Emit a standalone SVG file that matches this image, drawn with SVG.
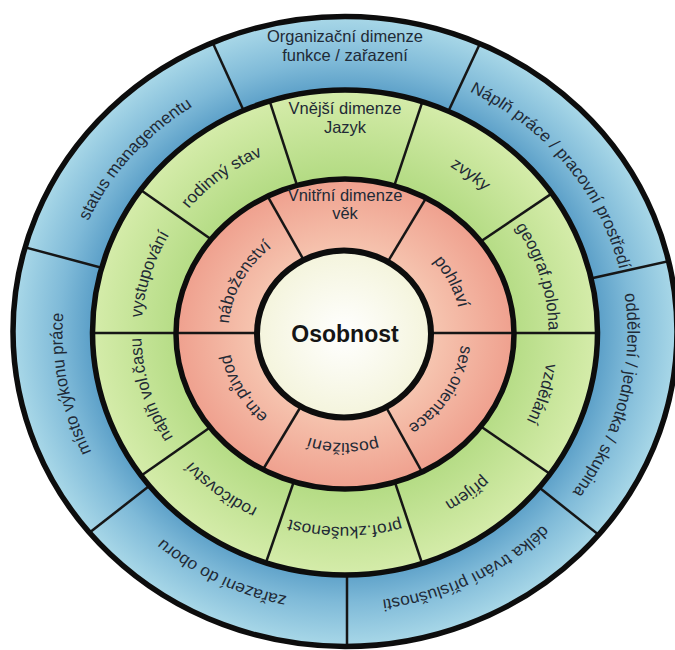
<svg xmlns="http://www.w3.org/2000/svg" width="675" height="650" viewBox="0 0 675 650">
<style>
  .lbl{font-family:"Liberation Sans",Arial,sans-serif;font-size:16.5px;fill:#1f2a36;}
  .ctr{font-family:"Liberation Sans",Arial,sans-serif;font-size:23px;font-weight:bold;fill:#151515;}
  .div{stroke:#161616;stroke-width:2.5;}
  .ring{fill:none;stroke:#0d0d0d;stroke-width:5.5;}
</style>
<defs>
  <radialGradient id="gBlue" cx="0.5" cy="0.5" r="0.5">
    <stop offset="0.74" stop-color="#5399c4"/>
    <stop offset="0.86" stop-color="#7fbad8"/>
    <stop offset="1" stop-color="#a9d8e8"/>
  </radialGradient>
  <radialGradient id="gGreen" cx="0.5" cy="0.5" r="0.5">
    <stop offset="0.64" stop-color="#b3db83"/>
    <stop offset="1" stop-color="#d5ecaa"/>
  </radialGradient>
  <radialGradient id="gPink" cx="0.5" cy="0.5" r="0.5">
    <stop offset="0.52" stop-color="#f6c5b0"/>
    <stop offset="1" stop-color="#efa08e"/>
  </radialGradient>
  <radialGradient id="gCenter" cx="0.5" cy="0.5" r="0.5">
    <stop offset="0" stop-color="#ffffff"/>
    <stop offset="1" stop-color="#f4f4dc"/>
  </radialGradient>
  <clipPath id="cOuter"><ellipse cx="345" cy="331.5" rx="332" ry="315"/></clipPath>
  <clipPath id="cGreen"><ellipse cx="345" cy="332.5" rx="252.5" ry="242.5"/></clipPath>
  <clipPath id="cPink"><ellipse cx="345" cy="334" rx="169" ry="155"/></clipPath>
  <path id="arcB" d="M-269,0 A269,269 0 0 1 269,0"/>
  <path id="arcG" d="M-194,0 A194,194 0 0 1 194,0"/>
  <path id="arcP" d="M-110,0 A110,110 0 0 1 110,0"/>
</defs>

<g id="ring-outer">
  <ellipse cx="345" cy="331.5" rx="332" ry="315" fill="url(#gBlue)"/>
</g>
<g id="connectors-outer" clip-path="url(#cOuter)" class="div">
  <line x1="0" y1="0" x2="0" y2="-400" transform="translate(345,333) rotate(25)"/>
  <line x1="0" y1="0" x2="0" y2="-400" transform="translate(345,333) rotate(77.5)"/>
  <line x1="0" y1="0" x2="0" y2="-400" transform="translate(345,333) rotate(128.5)"/>
  <line x1="0" y1="0" x2="0" y2="-400" transform="translate(347,333) rotate(180)"/>
  <line x1="0" y1="0" x2="0" y2="-400" transform="translate(345,333) rotate(232)"/>
  <line x1="0" y1="0" x2="0" y2="-400" transform="translate(345,333) rotate(285)"/>
  <line x1="0" y1="0" x2="0" y2="-400" transform="translate(345,333) rotate(335.5)"/>
</g>

<g id="ring-green">
  <ellipse cx="345" cy="332.5" rx="252.5" ry="242.5" fill="url(#gGreen)"/>
</g>
<g id="connectors-green" clip-path="url(#cGreen)" class="div">
  <line x1="0" y1="0" x2="0" y2="-300" transform="translate(345,333) rotate(342)"/>
  <line x1="0" y1="0" x2="0" y2="-300" transform="translate(345,333) rotate(18.5)"/>
  <line x1="0" y1="0" x2="0" y2="-300" transform="translate(345,333) rotate(56)"/>
  <line x1="0" y1="0" x2="0" y2="-300" transform="translate(345,333) rotate(90)"/>
  <line x1="0" y1="0" x2="0" y2="-300" transform="translate(345,333) rotate(124.5)"/>
  <line x1="0" y1="0" x2="0" y2="-300" transform="translate(345,333) rotate(161.5)"/>
  <line x1="0" y1="0" x2="0" y2="-300" transform="translate(345,333) rotate(199)"/>
  <line x1="0" y1="0" x2="0" y2="-300" transform="translate(345,333) rotate(235)"/>
  <line x1="0" y1="0" x2="0" y2="-300" transform="translate(345,333) rotate(270)"/>
  <line x1="0" y1="0" x2="0" y2="-300" transform="translate(345,333) rotate(305)"/>
</g>

<g id="ring-pink">
  <ellipse cx="345" cy="334" rx="169" ry="155" fill="url(#gPink)"/>
</g>
<g id="connectors-pink" clip-path="url(#cPink)" class="div">
  <line x1="0" y1="0" x2="0" y2="-200" transform="translate(345,333) rotate(330.5)"/>
  <line x1="0" y1="0" x2="0" y2="-200" transform="translate(345,333) rotate(31)"/>
  <line x1="0" y1="0" x2="0" y2="-200" transform="translate(345,333) rotate(90)"/>
  <line x1="0" y1="0" x2="0" y2="-200" transform="translate(345,333) rotate(151)"/>
  <line x1="0" y1="0" x2="0" y2="-200" transform="translate(345,333) rotate(211)"/>
  <line x1="0" y1="0" x2="0" y2="-200" transform="translate(345,333) rotate(270)"/>
</g>

<g id="center">
  <ellipse cx="344" cy="334" rx="87" ry="83.5" fill="url(#gCenter)"/>
</g>

<g id="ring-borders">
  <ellipse class="ring" cx="345" cy="331.5" rx="332" ry="315"/>
  <ellipse class="ring" cx="345" cy="332.5" rx="252.5" ry="242.5"/>
  <ellipse class="ring" cx="345" cy="334" rx="169" ry="155"/>
  <ellipse class="ring" cx="344" cy="334" rx="87" ry="83.5" style="stroke-width:6"/>
</g>

<g id="labels-outer" class="lbl" text-anchor="middle">
  <g id="n-organizacni">
    <text x="345" y="42">Organizační dimenze</text>
    <text x="345" y="61">funkce / zařazení</text>
  </g>
  <g transform="translate(345,333) scale(1.05,1)">
    <text id="n-napln" transform="rotate(51.25)"><textPath href="#arcB" startOffset="50%">Náplň práce / pracovní prostředí</textPath></text>
    <text id="n-oddeleni" transform="rotate(104)"><textPath href="#arcB" startOffset="50%">oddělení / jednotka / skupina</textPath></text>
    <text id="n-delka" transform="rotate(154)"><textPath href="#arcB" startOffset="50%">délka trvání příslušnosti</textPath></text>
    <text id="n-zarazeni" transform="rotate(206)"><textPath href="#arcB" startOffset="50%">zařazení do oboru</textPath></text>
    <text id="n-misto" transform="rotate(259)"><textPath href="#arcB" startOffset="50%">místo výkonu práce</textPath></text>
    <text id="n-status" transform="rotate(311)"><textPath href="#arcB" startOffset="50%">status managementu</textPath></text>
  </g>
</g>

<g id="labels-green" class="lbl" text-anchor="middle">
  <g id="n-vnejsi">
    <text x="345" y="114">Vnější dimenze</text>
    <text x="345" y="133">Jazyk</text>
  </g>
  <g transform="translate(345,333) scale(1.05,1)">
    <text id="n-zvyky" transform="rotate(37)"><textPath href="#arcG" startOffset="50%">zvyky</textPath></text>
    <text id="n-geograf" transform="rotate(73)"><textPath href="#arcG" startOffset="50%">geograf.poloha</textPath></text>
    <text id="n-vzdelani" transform="rotate(108)"><textPath href="#arcG" startOffset="50%">vzdělání</textPath></text>
    <text id="n-prijem" transform="rotate(144)"><textPath href="#arcG" startOffset="50%">příjem</textPath></text>
    <text id="n-prof" transform="rotate(180)"><textPath href="#arcG" startOffset="50%">prof.zkušenost</textPath></text>
    <text id="n-rodicovstvi" transform="rotate(217)"><textPath href="#arcG" startOffset="50%">rodičovství</textPath></text>
    <text id="n-napln-vol" transform="rotate(253)"><textPath href="#arcG" startOffset="50%">náplň vol.času</textPath></text>
    <text id="n-vystupovani" transform="rotate(287.5)"><textPath href="#arcG" startOffset="50%">vystupování</textPath></text>
    <text id="n-rodinny" transform="rotate(323)"><textPath href="#arcG" startOffset="50%">rodinný stav</textPath></text>
  </g>
</g>

<g id="labels-pink" class="lbl" text-anchor="middle">
  <g id="n-vnitrni">
    <text x="345" y="201">Vnitřní dimenze</text>
    <text x="345" y="219">věk</text>
  </g>
  <g transform="translate(345,333) scale(1.06,1)">
    <text id="n-pohlavi" transform="rotate(63)"><textPath href="#arcP" startOffset="50%">pohlaví</textPath></text>
    <text id="n-sex" transform="rotate(122)"><textPath href="#arcP" startOffset="50%">sex.orientace</textPath></text>
    <text id="n-postizeni" transform="rotate(181)"><textPath href="#arcP" startOffset="50%">postižení</textPath></text>
    <text id="n-etn" transform="rotate(240)"><textPath href="#arcP" startOffset="50%">etn.původ</textPath></text>
    <text id="n-nabozenstvi" transform="rotate(298)"><textPath href="#arcP" startOffset="50%">náboženství</textPath></text>
  </g>
</g>

<g id="n-osobnost">
  <text class="ctr" x="345" y="342" text-anchor="middle">Osobnost</text>
</g>
</svg>
